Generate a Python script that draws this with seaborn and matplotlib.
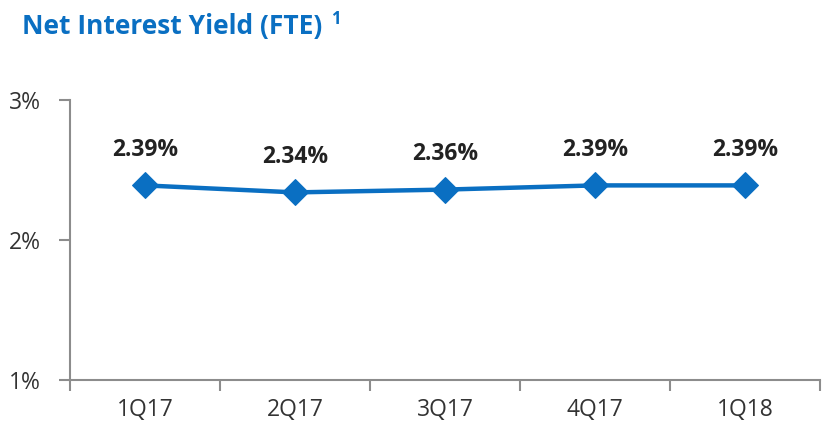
import matplotlib
matplotlib.use("Agg")
import matplotlib.pyplot as plt
import seaborn as sns
import pandas as pd
import numpy as np

quarters = ["1Q17", "2Q17", "3Q17", "4Q17", "1Q18"]
yield_pct = [2.39, 2.34, 2.36, 2.39, 2.39]
y_ticks = [1, 2, 3]

BLUE = "#0A6FC2"
GRAY = "#8C8C8C"

sns.set_theme(style="white")
plt.rcParams["font.family"] = ["Open Sans", "DejaVu Sans"]

df = pd.DataFrame({"pos": np.arange(len(quarters)), "val": yield_pct})

fig = plt.figure(figsize=(8.37, 4.4), dpi=100)
ax = fig.add_axes([70 / 837, 60 / 440, 750 / 837, 280 / 440])

sns.lineplot(data=df, x="pos", y="val", ax=ax, color=BLUE, linewidth=3.2,
             marker="D", markersize=13, markeredgecolor=BLUE)

for x, v in zip(df["pos"], df["val"]):
    ax.annotate(f"{v:.2f}%", (x, v), xytext=(0, 17), textcoords="offset points",
                ha="center", va="bottom", fontsize=16.5, fontweight="bold", color="#222222")

ax.set_xlim(-0.5, len(quarters) - 0.5)
ax.set_ylim(1, 3)
ax.set_yticks(y_ticks)
ax.set_yticklabels([f"{t}%" for t in y_ticks])
ax.set_xticks(df["pos"])
ax.set_xticklabels(quarters)
ax.set_xticks(np.arange(-0.5, len(quarters), 1), minor=True)
ax.tick_params(axis="x", which="major", length=0, pad=13, labelsize=16.5, labelcolor="#333333")
ax.tick_params(axis="x", which="minor", length=8, width=1.5, color=GRAY, direction="out", bottom=True)
ax.tick_params(axis="y", length=8, width=1.5, color=GRAY, direction="out", left=True,
               labelsize=16.5, labelcolor="#333333", pad=13)
ax.set_xlabel("")
ax.set_ylabel("")

for side in ["top", "right"]:
    ax.spines[side].set_visible(False)
for side in ["left", "bottom"]:
    ax.spines[side].set_color(GRAY)
    ax.spines[side].set_linewidth(1.5)

fig.text(22 / 837, 1 - 34 / 440, "Net Interest Yield (FTE)", fontsize=19, fontweight="bold",
         color=BLUE, ha="left", va="baseline")
fig.text(331 / 837, 1 - 24 / 440, "1", fontsize=12, fontweight="bold",
         color=BLUE, ha="left", va="baseline")

fig.savefig("out.png", dpi=100)
